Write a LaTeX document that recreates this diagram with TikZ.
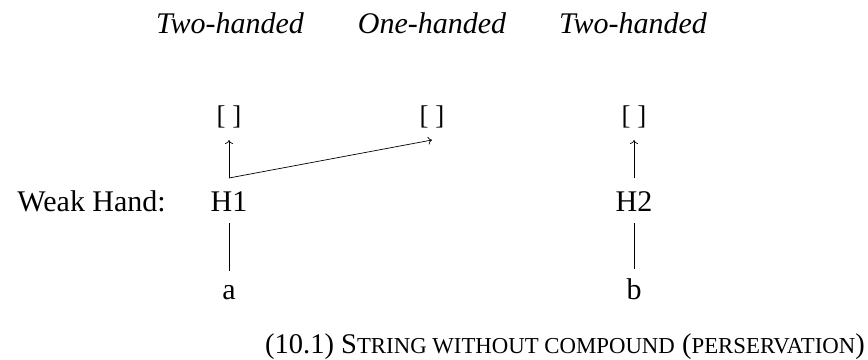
\documentclass[tikz,border=0pt]{standalone}
\usepackage{fontspec}
\setmainfont{Liberation Serif}
\usetikzlibrary{arrows.meta}
\begin{document}
\begin{tikzpicture}[x=1pt,y=-1pt,
  lbl/.style={font=\fontsize{30}{34}\selectfont, inner sep=0pt, anchor=base},
  brk/.style={font=\fontsize{27}{31}\selectfont, inner sep=0pt, anchor=base},
  hdr/.style={font=\fontsize{30}{34}\selectfont\itshape, inner sep=0pt, anchor=base},
  captext/.style={font=\fontsize{28.5}{32}\selectfont, inner sep=0pt, anchor=base east},
  link/.style={line width=0.7pt},
  arr/.style={line width=0.7pt, -{To[length=4pt,width=8pt]}}]
\useasboundingbox (0,0) rectangle (868,359);
\node[hdr] (h1) at (230,33) {Two-handed};
\node[hdr] (h2) at (432,33) {One-handed};
\node[hdr] (h3) at (633,33) {Two-handed};
\node[brk] (s1) at (229,124) {[ ]};
\node[brk] (s2) at (432,124) {[ ]};
\node[brk] (s3) at (634,124) {[ ]};
\node[lbl, anchor=base east] (wh) at (166,211) {Weak Hand:};
\node[lbl] (H1) at (229,211) {H1};
\node[lbl] (H2) at (634,211) {H2};
\node[lbl] (a) at (229,299) {a};
\node[lbl] (b) at (634,299) {b};
\coordinate (c1) at (229,178);
\coordinate (t1) at (229,140);
\coordinate (t2) at (432,140);
\coordinate (c3) at (634,178);
\coordinate (t3) at (634,140);
\coordinate (d1) at (229,223);
\coordinate (e1) at (229,271);
\coordinate (d3) at (634,223);
\coordinate (e3) at (634,269);
\draw[arr] (c1) -- (t1);
\draw[arr] (c1) -- (t2);
\draw[arr] (c3) -- (t3);
\draw[link] (d1) -- (e1);
\draw[link] (d3) -- (e3);
\node[captext] (cp) at (865,353) {(10.1) S{\fontsize{22.8}{26}\selectfont TRING WITHOUT COMPOUND} ({\fontsize{22.8}{26}\selectfont PERSERVATION})};
\end{tikzpicture}
\end{document}
